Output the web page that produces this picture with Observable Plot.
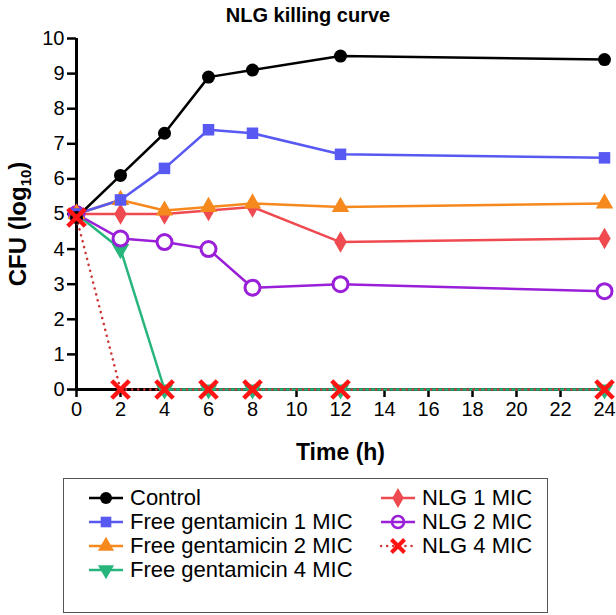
<!DOCTYPE html>
<html>
<head>
<meta charset="utf-8">
<script src="https://cdn.jsdelivr.net/npm/d3@7"></script>
<script src="https://cdn.jsdelivr.net/npm/@observablehq/plot@0.6"></script>
<style>
  body { margin: 0; background: #fff; font-family: "Liberation Sans", Arial, sans-serif; }
  #wrap { position: relative; width: 616px; height: 615px; }
  #title { position: absolute; left: 0; top: 1px; width: 616px; text-align: center; font-weight: bold; font-size: 20px; line-height: 28px; }
  #chart { position: absolute; left: 0; top: 28px; }
  #legend { position: absolute; left: 63px; top: 478px; width: 485px; height: 135px; border: 1.5px solid #555; box-sizing: border-box; }
  .item { position: absolute; display: flex; align-items: center; font-size: 22px; height: 24px; white-space: nowrap; }
  .item svg { margin-right: 6px; }
</style>
</head>
<body>
<div id="wrap">
  <div id="title">NLG killing curve</div>
  <div id="chart"></div>
  <div id="legend"></div>
</div>
<script>
const times = [0, 2, 4, 6, 8, 12, 24];
const seriesNames = ["Control", "Free gentamicin 1 MIC", "Free gentamicin 2 MIC", "Free gentamicin 4 MIC", "NLG 1 MIC", "NLG 2 MIC", "NLG 4 MIC"];
const control = [4.9, 6.1, 7.3, 8.9, 9.1, 9.5, 9.4];
const freeGent1 = [5.0, 5.4, 6.3, 7.4, 7.3, 6.7, 6.6];
const freeGent2 = [5.0, 5.4, 5.1, 5.2, 5.3, 5.2, 5.3];
const freeGent4 = [5.0, 4.0, 0, 0, 0, 0, 0];
const nlg1 = [5.0, 5.0, 5.0, 5.1, 5.2, 4.2, 4.3];
const nlg2 = [5.0, 4.3, 4.2, 4.0, 2.9, 3.0, 2.8];
const nlg4 = [4.9, 0, 0, 0, 0, 0, 0];
const xTicks = [0, 2, 4, 6, 8, 10, 12, 14, 16, 18, 20, 22, 24];
const yTicks = [0, 1, 2, 3, 4, 5, 6, 7, 8, 9, 10];

const styles = {
  "Control": {color: "#000000", symbol: "circle", fill: true, r: 6.5},
  "Free gentamicin 1 MIC": {color: "#5858f2", symbol: "square", fill: true, r: 6.5},
  "Free gentamicin 2 MIC": {color: "#f5891e", symbol: "triangle", fill: true, r: 6.5},
  "Free gentamicin 4 MIC": {color: "#27b57c", symbol: "triangle", fill: true, r: 6.5, rotate: 180},
  "NLG 1 MIC": {color: "#ee4a50", symbol: "diamond", fill: true, r: 6.5},
  "NLG 2 MIC": {color: "#9a1fd8", symbol: "circle", fill: false, r: 7.5},
  "NLG 4 MIC": {color: "#ff1414", symbol: "times", fill: false, r: 8, lineColor: "#cc3333", dotted: true}
};

const valueArrays = [control, freeGent1, freeGent2, freeGent4, nlg1, nlg2, nlg4];
const data = [];
seriesNames.forEach((s, i) => times.forEach((t, j) => data.push({series: s, time: t, cfu: valueArrays[i][j]})));

const lineMarks = [];
const dotMarks = [];
const order = ["Free gentamicin 4 MIC", "NLG 2 MIC", "NLG 1 MIC", "Free gentamicin 2 MIC", "Free gentamicin 1 MIC", "Control", "NLG 4 MIC"];
order.forEach(s => {
  const st = styles[s];
  const d = data.filter(e => e.series === s);
  lineMarks.push(Plot.line(d, {x: "time", y: "cfu", stroke: st.lineColor || st.color, strokeWidth: 2.5,
    strokeDasharray: st.dotted ? "0.1,6" : null, strokeLinecap: st.dotted ? "round" : "butt"}));
});
order.forEach(s => {
  const st = styles[s];
  const d = data.filter(e => e.series === s);
  dotMarks.push(Plot.dot(d, {x: "time", y: "cfu", symbol: () => st.symbol, r: st.r,
    fill: st.fill ? st.color : (st.symbol === "times" ? "none" : "white"),
    stroke: st.color, strokeWidth: st.symbol === "times" ? 4.5 : (st.fill ? 0 : 3),
    rotate: st.rotate || 0}));
});

const font = "Liberation Sans, Arial, sans-serif";
const plot = Plot.plot({
  width: 616,
  height: 445,
  marginTop: 10,
  marginLeft: 76,
  marginRight: 12,
  marginBottom: 84,
  style: {fontFamily: font, fontSize: "20px", color: "#000", background: "white", overflow: "visible"},
  x: {domain: [0, 24]},
  y: {domain: [0, 10]},
  symbol: {type: "identity"},
  marks: [
    Plot.axisX({ticks: xTicks, tickSize: 8, tickPadding: 4, strokeWidth: 2.5, label: null, tickFormat: d => d}),
    Plot.axisY({ticks: yTicks, tickSize: 9, tickPadding: 3, strokeWidth: 2.5, label: null}),
    Plot.ruleX([0], {y1: 0, y2: 10, stroke: "#000", strokeWidth: 3}),
    Plot.ruleY([0], {x1: 0, x2: 24, stroke: "#000", strokeWidth: 3}),
    ...lineMarks,
    ...dotMarks,
    Plot.text(["Time (h)"], {frameAnchor: "bottom", dy: 70, fontSize: 23, fontWeight: "bold", text: d => d, x: 12, y: 0, lineAnchor: "bottom"})
  ]
});
document.getElementById("chart").appendChild(plot);

const svg = d3.select(plot);

const yl = svg.append("text")
  .attr("transform", "translate(26,196) rotate(-90)")
  .attr("text-anchor", "middle")
  .attr("font-family", font)
  .attr("font-weight", "bold")
  .attr("font-size", 24)
  .attr("fill", "#000");
yl.append("tspan").text("CFU (log");
yl.append("tspan").attr("font-size", 15).attr("dy", 5).text("10");
yl.append("tspan").attr("dy", -5).text(")");

const legend = d3.select("#legend");
const positions = [
  [24, 7], [24, 31], [24, 55], [24, 79],
  [316, 7], [316, 31], [316, 55]
];
seriesNames.forEach((s, i) => {
  const st = styles[s];
  const item = legend.append("div").attr("class", "item")
    .style("left", positions[i][0] + "px").style("top", positions[i][1] + "px");
  const sw = item.append("svg").attr("width", 36).attr("height", 20);
  sw.append("line").attr("x1", 1).attr("x2", 35).attr("y1", 10).attr("y2", 10)
    .attr("stroke", st.lineColor || st.color).attr("stroke-width", 2.5)
    .attr("stroke-dasharray", st.dotted ? "0.1,6" : null).attr("stroke-linecap", st.dotted ? "round" : "butt");
  const sym = {circle: d3.symbolCircle, square: d3.symbolSquare, triangle: d3.symbolTriangle, diamond: d3.symbolDiamond, times: d3.symbolTimes}[st.symbol];
  const r = 6;
  sw.append("path").attr("d", d3.symbol(sym, Math.PI * r * r)())
    .attr("transform", `translate(18,10) rotate(${st.rotate || 0})`)
    .attr("fill", st.fill ? st.color : "none")
    .attr("stroke", st.fill ? "none" : st.color)
    .attr("stroke-width", st.symbol === "times" ? 4 : 2.5);
  item.append("span").text(s);
});
</script>
</body>
</html>
